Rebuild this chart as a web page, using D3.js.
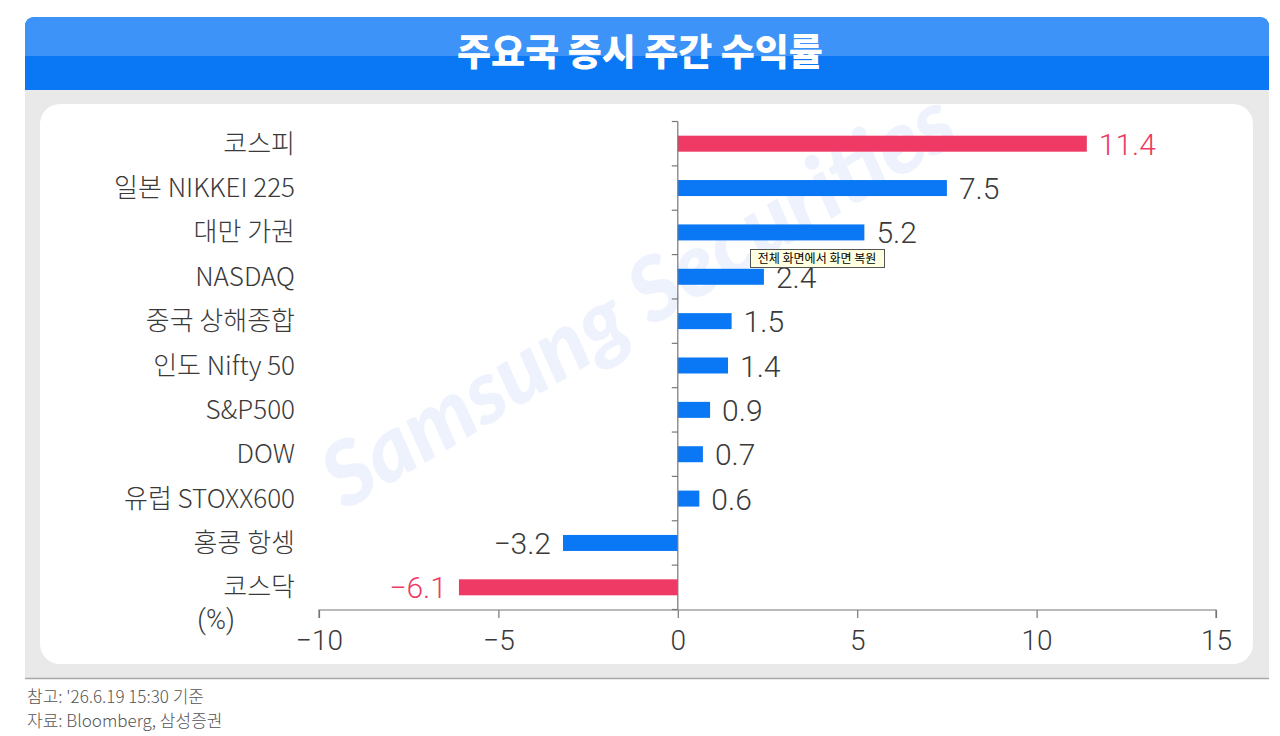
<!DOCTYPE html>
<html><head><meta charset="utf-8">
<script src="https://cdn.jsdelivr.net/npm/d3@7"></script>
<style>
html,body{margin:0;padding:0;background:#fff;}
svg{display:block;}
</style></head>
<body>
<svg id="chart" width="1280" height="736"></svg>
<script>
const categories = ["코스피","일본 NIKKEI 225","대만 가권","NASDAQ","중국 상해종합","인도 Nifty 50","S&P500","DOW","유럽 STOXX600","홍콩 항셍","코스닥"];
const values = [11.4, 7.5, 5.2, 2.4, 1.5, 1.4, 0.9, 0.7, 0.6, -3.2, -6.1];
const highlighted = ["코스피","코스닥"];
const xTicks = [-10, -5, 0, 5, 10, 15];
const title = "주요국 증시 주간 수익률";
const notes = ["참고: '26.6.19 15:30 기준", "자료: Bloomberg, 삼성증권"];

const RED = "#ee3a64", BLUE = "#0a78f5", TXT = "#3a3a3a";
const KR = "'Noto Sans CJK KR','Noto Sans',sans-serif";
const NUM = "Roboto,'Noto Sans',sans-serif";

const svg = d3.select("#chart");

// header
const hx = 25, hw = 1244, hy = 17, hh = 73, r = 10;
svg.append("path")
  .attr("d", `M${hx},${hy+hh} V${hy+r} Q${hx},${hy} ${hx+r},${hy} H${hx+hw-r} Q${hx+hw},${hy} ${hx+hw},${hy+r} V${hy+hh} Z`)
  .attr("fill", BLUE);
svg.append("path")
  .attr("d", `M${hx},${56} V${hy+r} Q${hx},${hy} ${hx+r},${hy} H${hx+hw-r} Q${hx+hw},${hy} ${hx+hw},${hy+r} V${56} Z`)
  .attr("fill", "#3d93f7");
svg.append("text").attr("x", 640).attr("y", 66).attr("text-anchor", "middle")
  .attr("font-family", KR).attr("font-weight", 900).attr("font-size", 37)
  .attr("fill", "#fff").text(title);

// gray panel
svg.append("rect").attr("x", hx).attr("y", 90).attr("width", hw).attr("height", 588).attr("fill", "#e9e9e9");
svg.append("line").attr("x1", hx).attr("x2", hx+hw).attr("y1", 678.5).attr("y2", 678.5).attr("stroke", "#a9a9a9").attr("stroke-width", 1.5);
svg.append("rect").attr("x", 40).attr("y", 104).attr("width", 1213).attr("height", 560).attr("rx", 20).attr("fill", "#fff");

// watermark
svg.append("text").attr("transform", "translate(642,306) rotate(-31)")
  .attr("text-anchor", "middle").attr("dominant-baseline", "middle")
  .attr("font-family", "Lato,'Open Sans',sans-serif").attr("font-weight", 900).attr("font-style", "italic")
  .attr("font-size", 88).attr("fill", "#eef2fd").text("Samsung Securities");

// scales
const x = d3.scaleLinear().domain([-10, 15]).range([319, 1216]);
const y = d3.scaleBand().domain(categories).range([121.5, 609.5]).padding(0);
const barH = 16;

const g = svg.append("g");

// bars
g.selectAll("rect.bar").data(categories).join("rect")
  .attr("class", "bar")
  .attr("x", (d, i) => x(Math.min(0, values[i])))
  .attr("width", (d, i) => Math.abs(x(values[i]) - x(0)))
  .attr("y", d => y(d) + y.bandwidth()/2 - barH/2)
  .attr("height", barH)
  .attr("fill", d => highlighted.includes(d) ? RED : BLUE);

// y axis (zero line with ticks at band boundaries)
const yAxisG = g.append("g").attr("transform", `translate(${x(0)},0)`);
yAxisG.append("line").attr("x1", 0).attr("x2", 0).attr("y1", y.range()[0]).attr("y2", y.range()[1]).attr("stroke", "#777").attr("stroke-width", 1.2);
const bounds = categories.map(c => y(c)).concat([y.range()[1]]);
yAxisG.selectAll("line.tk").data(bounds).join("line").attr("class", "tk")
  .attr("x1", -6).attr("x2", 0).attr("y1", d => d).attr("y2", d => d)
  .attr("stroke", "#777").attr("stroke-width", 1.2);

// category labels
g.selectAll("text.cat").data(categories).join("text").attr("class", "cat")
  .attr("x", 295).attr("y", d => y(d) + y.bandwidth()/2 + 9)
  .attr("text-anchor", "end").attr("font-family", KR).attr("font-weight", 300)
  .attr("font-size", 26).attr("fill", TXT).text(d => d);

// value labels
const fmt = v => (v < 0 ? "\u2212" : "") + Math.abs(v).toFixed(1);
g.selectAll("text.val").data(categories).join("text").attr("class", "val")
  .attr("x", (d, i) => values[i] >= 0 ? x(values[i]) + 12 : x(values[i]) - 12)
  .attr("y", d => y(d) + y.bandwidth()/2 + 11)
  .attr("text-anchor", (d, i) => values[i] >= 0 ? "start" : "end")
  .attr("font-family", NUM).attr("font-weight", 300).attr("font-size", 30)
  .attr("fill", d => highlighted.includes(d) ? RED : TXT)
  .text((d, i) => fmt(values[i]));

// x axis
const xAxis = d3.axisBottom(x).tickValues(xTicks).tickSize(8).tickPadding(8)
  .tickFormat(v => (v < 0 ? "\u2212" : "") + Math.abs(v));
const xg = g.append("g").attr("transform", "translate(0,610)").call(xAxis);
xg.select(".domain").attr("stroke", "#777").attr("stroke-width", 1.2).attr("d", `M${x(-10)},8V0H${x(15)}V8`);
xg.selectAll(".tick line").attr("stroke", "#777").attr("stroke-width", 1.2);
xg.selectAll(".tick text").attr("font-family", NUM).attr("font-weight", 300).attr("font-size", 28).attr("fill", TXT).attr("dy", "0.85em");

// unit
svg.append("text").attr("x", 216).attr("y", 629).attr("text-anchor", "middle")
  .attr("font-family", NUM).attr("font-weight", 300).attr("font-size", 27).attr("fill", TXT).text("(%)");

// tooltip
const tip = svg.append("g").attr("transform", "translate(750,249)");
tip.append("rect").attr("x", 0.5).attr("y", 0.5).attr("width", 134).attr("height", 18).attr("fill", "#ffffe1").attr("stroke", "#555");
tip.append("text").attr("x", 67).attr("y", 14).attr("text-anchor", "middle").attr("font-family", KR).attr("font-size", 12).attr("fill", "#000").text("전체 화면에서 화면 복원");

// footnotes
svg.selectAll("text.note").data(notes).join("text").attr("class", "note")
  .attr("x", 27).attr("y", (d, i) => 703 + i * 24)
  .attr("font-family", KR).attr("font-weight", 300).attr("font-size", 17).attr("fill", "#555").text(d => d);
</script>
</body></html>
